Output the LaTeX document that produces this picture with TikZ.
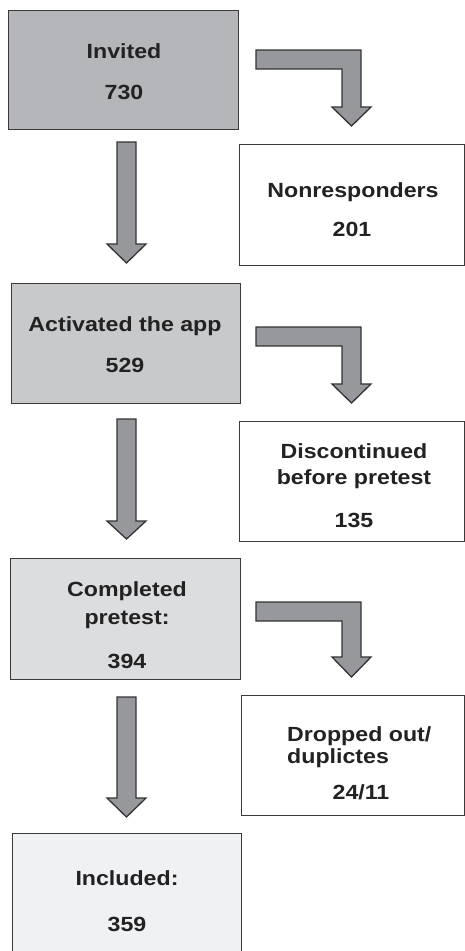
\documentclass[tikz,border=0pt]{standalone}
\usepackage{fontspec}
\setmainfont{Liberation Sans}[FakeStretch=1.13]
\begin{document}
\begin{tikzpicture}[x=1bp,y=-1bp,
  box/.style={draw=boxline,line width=1.4bp,inner sep=0pt,anchor=north west},
  lbl/.style={inner sep=0pt,anchor=base,text=txt,font=\fontsize{20.5bp}{22bp}\selectfont\bfseries},
  blockarrow/.style={draw=arrline,fill=arrfill,line width=1.3bp,line join=miter}]
\definecolor{boxline}{HTML}{3A3A3A}
\definecolor{arrline}{HTML}{333333}
\definecolor{arrfill}{HTML}{97989C}
\definecolor{txt}{HTML}{222222}
\definecolor{fA}{HTML}{B5B6B9}
\definecolor{fB}{HTML}{C8C9CB}
\definecolor{fC}{HTML}{DCDDDF}
\definecolor{fD}{HTML}{F0F1F3}
\useasboundingbox (0,0) rectangle (465,951);
\clip (0,0) rectangle (465,951);
% boxes
\node[box,fill=fA,minimum width=230bp,minimum height=119bp] (inv) at (8,10) {};
\node[box,fill=white,minimum width=225bp,minimum height=121bp] (non) at (239,144) {};
\node[box,fill=fB,minimum width=229bp,minimum height=120bp] (act) at (11,283) {};
\node[box,fill=white,minimum width=225bp,minimum height=120bp] (dis) at (239,421) {};
\node[box,fill=fC,minimum width=230bp,minimum height=121bp] (comp) at (10,558) {};
\node[box,fill=white,minimum width=223bp,minimum height=120bp] (drop) at (241,695) {};
\node[box,fill=fD,minimum width=229bp,minimum height=125bp] (inc) at (12,833) {};
% texts
\node[lbl] (invA) at (124,58) {Invited};
\node[lbl] (invB) at (124,99) {730};
\node[lbl] (nonA) at (353,197) {Nonresponders};
\node[lbl] (nonB) at (352,236) {201};
\node[lbl] (actA) at (125,331) {Activated the app};
\node[lbl] (actB) at (125,372) {529};
\node[lbl] (disA) at (354,458) {Discontinued};
\node[lbl] (disB) at (354,484) {before pretest};
\node[lbl] (disC) at (354,527) {135};
\node[lbl] (compA) at (127,596) {Completed};
\node[lbl] (compB) at (127,624) {pretest:};
\node[lbl] (compC) at (127,668) {394};
\node[lbl,anchor=base west] (dropA) at (287,741) {Dropped out/};
\node[lbl,anchor=base west] (dropB) at (287,763) {duplictes};
\node[lbl] (dropC) at (361,799) {24/11};
\node[lbl] (incA) at (127,885) {Included:};
\node[lbl] (incB) at (127,931) {359};
% down block arrows
\foreach \t/\hb/\tip in {142/244/263, 419/521/539, 697/798/817}{
  \draw[blockarrow] (117,\t) -- (136,\t) -- (136,\hb) -- (146,\hb) -- (126.5,\tip)
    -- (107,\hb) -- (117,\hb) -- cycle;
}
% bent block arrows
\foreach \t/\hb/\tip in {50/107/126, 327/384/403, 602/657/677}{
  \draw[blockarrow] (256,\t) -- (361,\t) -- (361,\hb) -- (371,\hb) -- (351.5,\tip)
    -- (332,\hb) -- (342,\hb) -- (342,\t+19) -- (256,\t+19) -- cycle;
}
\end{tikzpicture}
\end{document}
